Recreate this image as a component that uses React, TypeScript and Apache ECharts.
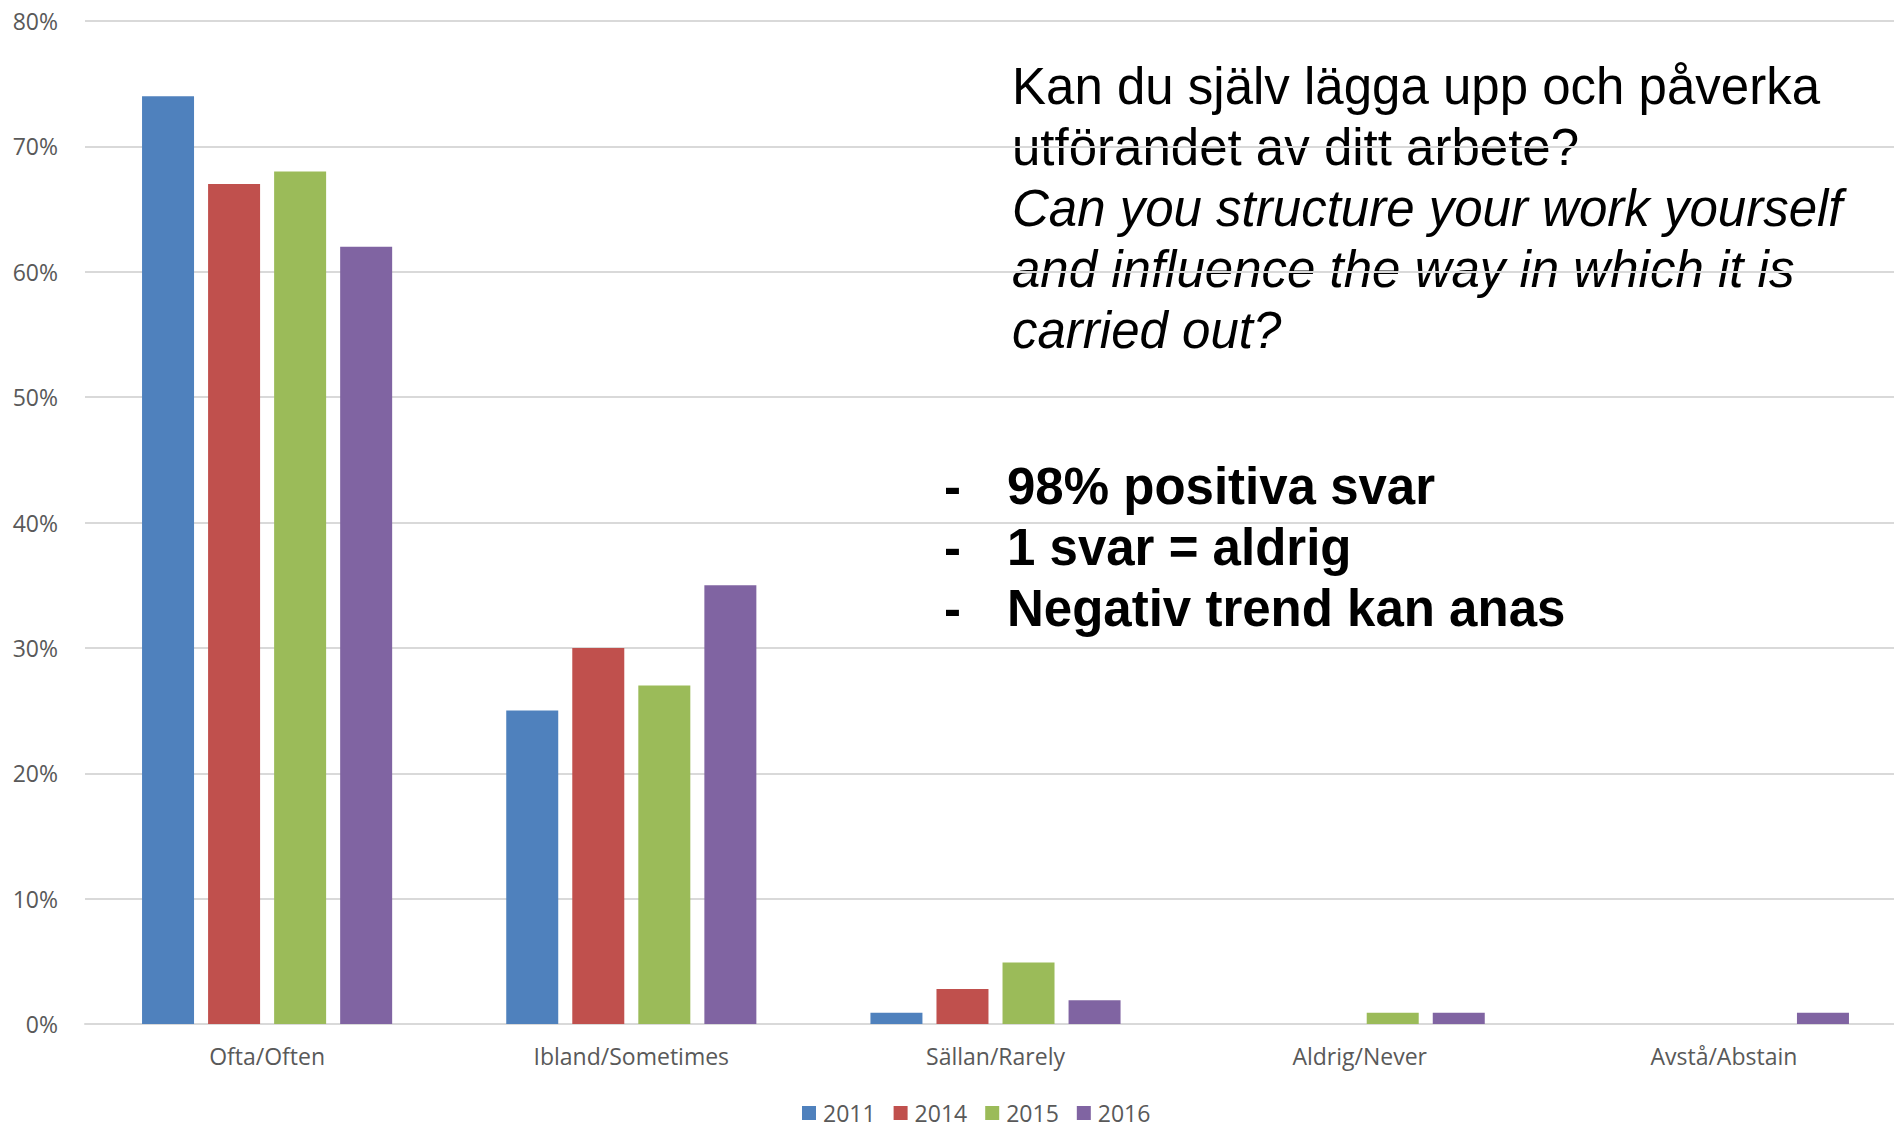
import React, { useEffect, useRef } from "react";
import * as echarts from "echarts";

const categories = ["Ofta/Often", "Ibland/Sometimes", "Sällan/Rarely", "Aldrig/Never", "Avstå/Abstain"];
const years = ["2011", "2014", "2015", "2016"];
const values2011 = [74, 25, 0.9, 0, 0];
const values2014 = [67, 30, 2.8, 0, 0];
const values2015 = [68, 27, 4.9, 0.9, 0];
const values2016 = [62, 35, 1.9, 0.9, 0.9];
const yMin = 0;
const yMax = 80;
const yInterval = 10;
const colors = ["#4F81BD", "#C0504D", "#9BBB59", "#8064A2"];
const questionSv = ["Kan du själv lägga upp och påverka", "utförandet av ditt arbete?"];
const questionEn = ["Can you structure your work yourself", "and influence the way in which it is", "carried out?"];
const bullets = ["98% positiva svar", "1 svar = aldrig", "Negativ trend kan anas"];

const seriesValues = [values2011, values2014, values2015, values2016];

export default function App() {
  const ref = useRef<HTMLDivElement>(null);
  useEffect(() => {
    if (!ref.current) return;
    const chart = echarts.init(ref.current, undefined, { renderer: "svg" });
    const labelFont = "'Open Sans', sans-serif";
    const textFont = "'Liberation Sans', Arial, sans-serif";
    const graphics: any[] = [];
    const titleLines = [
      ...questionSv.map((t) => ({ t, italic: false })),
      ...questionEn.map((t) => ({ t, italic: true })),
    ];
    titleLines.forEach((l, i) => {
      graphics.push({
        type: "text",
        x: 1012,
        y: 86 + i * 61,
        style: {
          text: l.t,
          fontFamily: textFont,
          fontSize: 51,
          fontStyle: l.italic ? "italic" : "normal",
          fill: "#000000",
          verticalAlign: "middle",
          align: "left",
        },
      });
    });
    bullets.forEach((b, i) => {
      graphics.push({
        type: "text",
        x: 944,
        y: 486 + i * 61,
        style: {
          text: "-",
          fontFamily: textFont,
          fontSize: 51,
          fontWeight: "bold",
          fill: "#000000",
          verticalAlign: "middle",
        },
      });
      graphics.push({
        type: "text",
        x: 1007,
        y: 486 + i * 61,
        style: {
          text: b,
          fontFamily: textFont,
          fontSize: 51,
          fontWeight: "bold",
          fill: "#000000",
          verticalAlign: "middle",
        },
      });
    });

    chart.setOption({
      animation: false,
      backgroundColor: "#ffffff",
      color: colors,
      grid: {
        left: 85,
        right: -12,
        top: 21,
        bottom: 105,
        containLabel: false,
        outerBoundsMode: "none",
      },
      legend: {
        data: years,
        left: 802,
        top: 1101,
        padding: 0,
        itemWidth: 14,
        itemHeight: 14,
        itemGap: 18,
        icon: "rect",
        textStyle: { fontFamily: labelFont, fontSize: 23, lineHeight: 24, color: "#595959", padding: [0, 0, 0, 2] },
      },
      xAxis: {
        type: "category",
        data: categories,
        axisLine: { show: true, lineStyle: { color: "#D9D9D9", width: 2 } },
        axisTick: { show: false },
        axisLabel: { fontFamily: labelFont, fontSize: 23, color: "#595959", margin: 20, interval: 0 },
      },
      yAxis: {
        type: "value",
        min: yMin,
        max: yMax,
        interval: yInterval,
        axisLine: { show: false },
        axisTick: { show: false },
        splitLine: { lineStyle: { color: "#D9D9D9", width: 2 } },
        axisLabel: {
          fontFamily: labelFont,
          fontSize: 23,
          color: "#595959",
          margin: 27,
          formatter: "{value}%",
        },
      },
      series: years.map((y, i) => ({
        name: y,
        type: "bar",
        data: seriesValues[i],
        barWidth: 52,
        barGap: "27%",
        itemStyle: { color: colors[i] },
      })),
      graphic: graphics,
    });
    return () => chart.dispose();
  }, []);
  return (
    <div
      ref={ref}
      style={{ position: "fixed", left: 0, top: 0, width: 1894, height: 1129, background: "#fff" }}
    />
  );
}
